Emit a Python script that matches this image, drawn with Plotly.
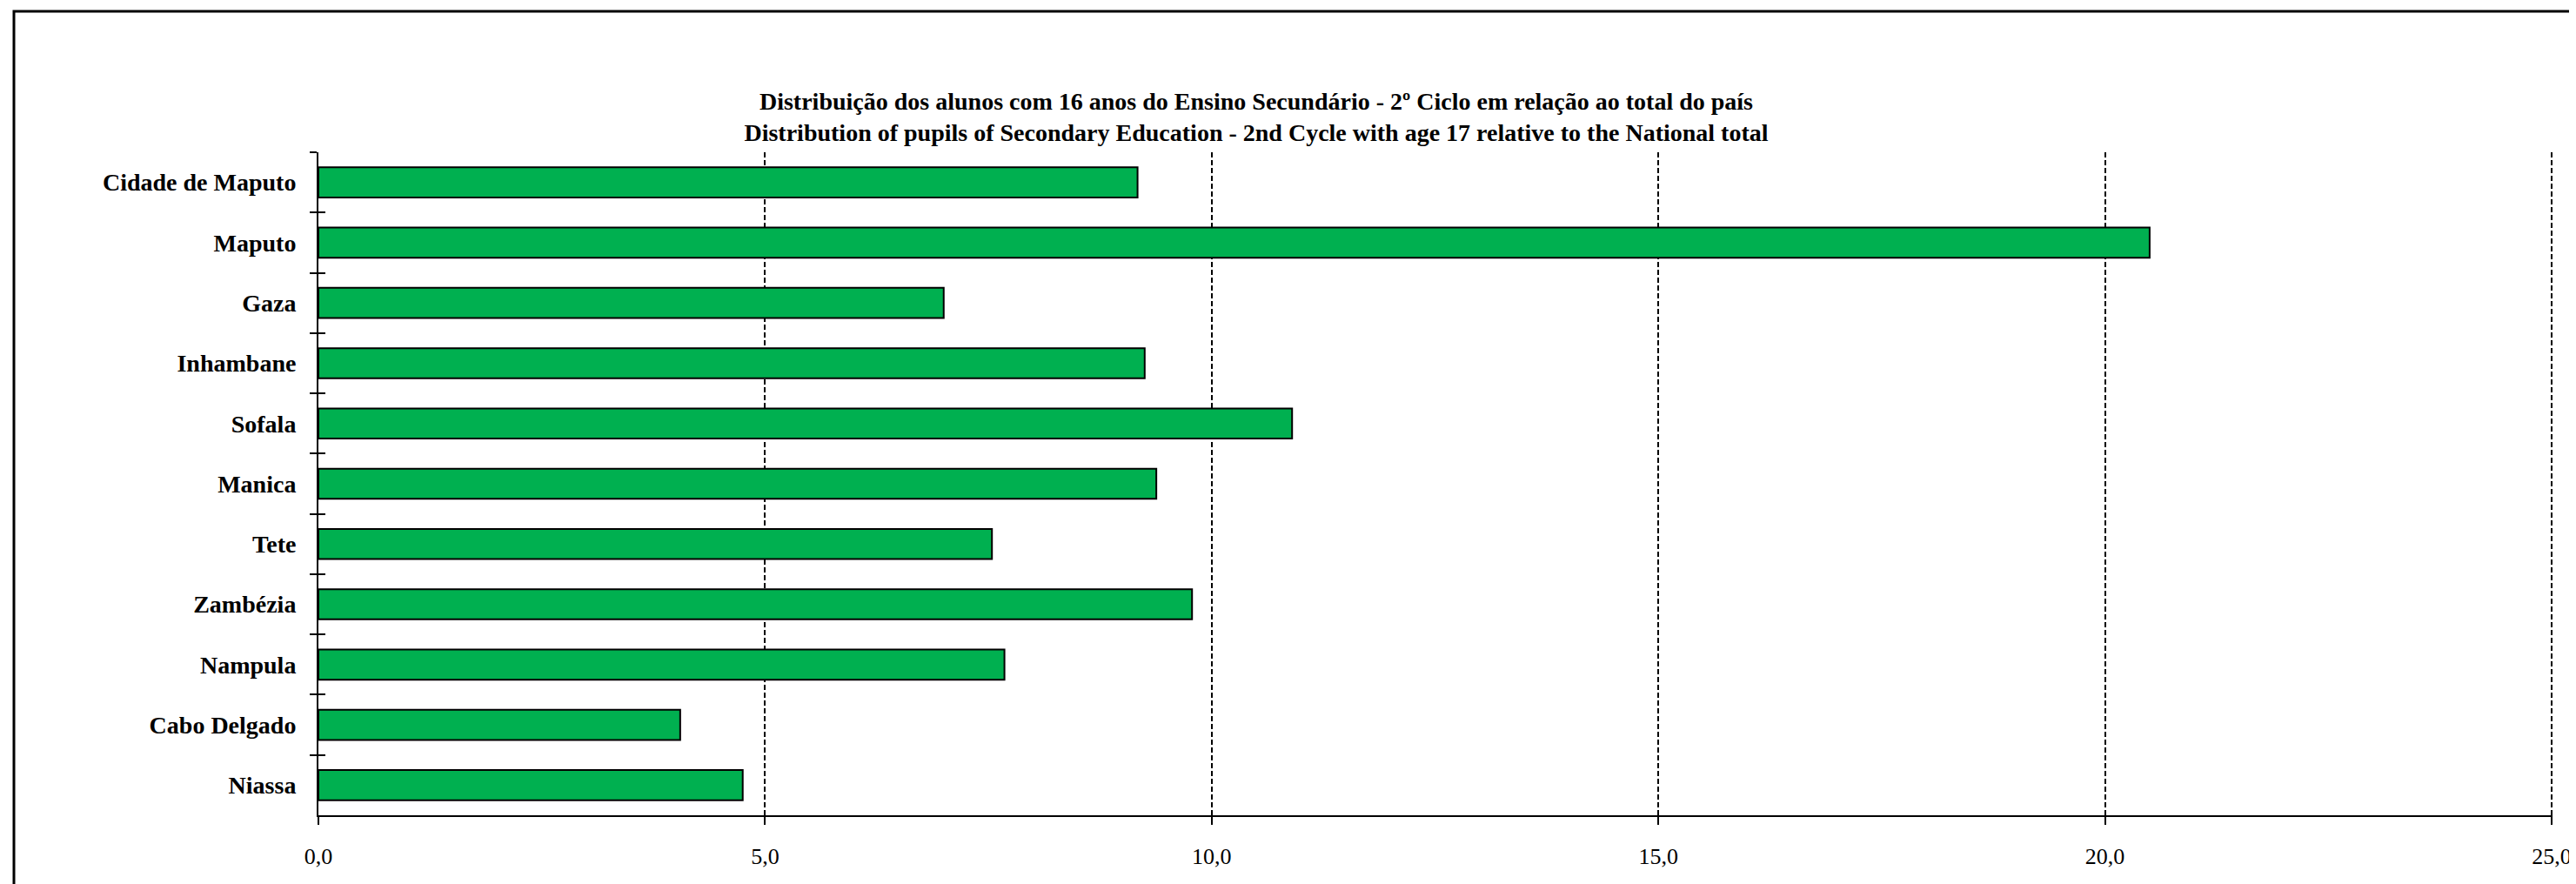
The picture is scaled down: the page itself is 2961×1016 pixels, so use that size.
import plotly.graph_objects as go

# Provinces, top to bottom as shown on the chart
provinces = [
    "Cidade de Maputo", "Maputo", "Gaza", "Inhambane", "Sofala", "Manica",
    "Tete", "Zambézia", "Nampula", "Cabo Delgado", "Niassa",
]
# Share of national total (%)
share = [9.17, 20.50, 7.00, 9.25, 10.90, 9.38, 7.54, 9.78, 7.68, 4.05, 4.75]

x_ticks = [0, 5, 10, 15, 20, 25]

TITLE = ("<b>Distribuição dos alunos com 16 anos do Ensino Secundário - 2º Ciclo em relação ao total do país"
         "<br>Distribution of pupils of Secondary Education - 2nd Cycle with age 17 relative to the National total</b>")

SERIF = "Liberation Serif"

# the page body adds an 8px offset, so the figure is a bit smaller
W, H = 2953, 1008
M_L, M_R, M_T, M_B = 358, 27, 167, 79

fig = go.Figure()

fig.add_trace(go.Bar(
    x=share,
    y=provinces,
    orientation="h",
    marker=dict(color="rgb(0,176,80)", line=dict(color="black", width=2)),
    width=0.5,
    showlegend=False,
    hoverinfo="x+y",
))

# invisible helper so the second y axis (inside ticks) has the categories
fig.add_trace(go.Scatter(
    x=[0] * len(provinces), y=provinces, yaxis="y2",
    mode="markers", marker=dict(opacity=0), showlegend=False, hoverinfo="skip",
))

fig.update_layout(
    width=W, height=H,
    margin=dict(l=M_L, r=M_R, t=M_T, b=M_B, autoexpand=False),
    paper_bgcolor="white",
    plot_bgcolor="white",
    separators=",.",
    font=dict(family=SERIF, color="black"),
    title=dict(
        text=TITLE,
        x=1436 / W, xanchor="center",
        y=1 - 118 / H, yanchor="middle",
        font=dict(family=SERIF, size=28, color="black"),
    ),
    xaxis=dict(
        range=[0, 25.01],
        tickvals=x_ticks,
        tickformat=".1f",
        automargin=False,
        showgrid=True,
        gridcolor="black",
        gridwidth=2,
        griddash="6px,3px",
        zeroline=False,
        showline=True,
        linecolor="black",
        linewidth=2,
        ticks="outside",
        ticklen=9,
        tickwidth=2,
        tickcolor="black",
        ticklabelstandoff=14,
        ticklabeloverflow="allow",
        tickfont=dict(family=SERIF, size=26, color="black"),
    ),
    yaxis=dict(
        type="category",
        range=[10.5, -0.5],
        automargin=False,
        tickson="boundaries",
        ticks="outside",
        ticklen=8,
        tickwidth=2,
        tickcolor="black",
        showline=True,
        linecolor="black",
        linewidth=2,
        showgrid=False,
        ticklabelstandoff=18,
        tickfont=dict(family=SERIF, size=28, color="black", weight="bold"),
    ),
    yaxis2=dict(
        type="category",
        overlaying="y",
        side="left",
        range=[10.5, -0.5],
        automargin=False,
        tickson="boundaries",
        ticks="inside",
        ticklen=8,
        tickwidth=2,
        tickcolor="black",
        showticklabels=False,
        showgrid=False,
        showline=False,
    ),
)

# outer frame (top and left edges visible, the rest runs off the page)
plot_w = W - M_L - M_R
plot_h = H - M_T - M_B
fig.add_shape(
    type="rect", xref="paper", yref="paper",
    x0=(8 - M_L) / plot_w, x1=(W + 50 - M_L) / plot_w,
    y0=-(M_B + 50) / plot_h, y1=(plot_h + M_T - 5) / plot_h,
    line=dict(color="black", width=3),
    fillcolor="rgba(0,0,0,0)",
    layer="below",
)

fig.write_html("out.html")
